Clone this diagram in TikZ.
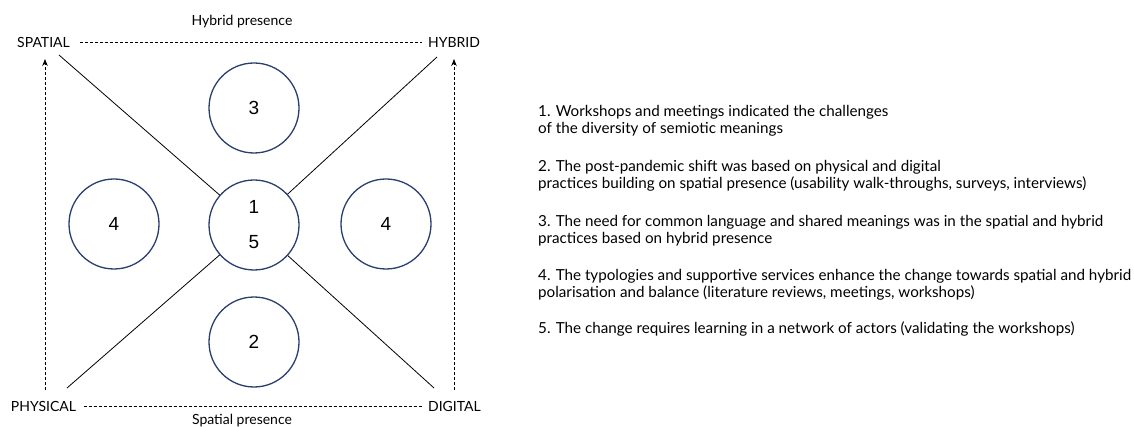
\documentclass[tikz,border=0pt]{standalone}
\usepackage{fontspec}
\setmainfont{Lato}
\newfontfamily\digitfont{Liberation Sans}
\usetikzlibrary{arrows.meta}
\definecolor{circnavy}{HTML}{2A3F6E}
\tikzset{
  circ/.style={circle, draw=circnavy, line width=1.3pt, fill=white, minimum size=90pt, inner sep=0pt, font=\digitfont\fontsize{19}{35}\selectfont, align=center},
  corner/.style={font=\fontsize{14}{16}\selectfont, inner sep=0pt},
  axislabel/.style={font=\fontsize{14}{16}\selectfont, inner sep=0pt, anchor=base},
  diag/.style={line width=0.8pt, black},
  dashline/.style={line width=0.8pt, dash pattern=on 3pt off 2pt},
  uparrow/.style={line width=0.8pt, dash pattern=on 3pt off 2pt, -{Stealth[length=7pt,width=5.5pt]}},
  item/.style={font=\fontsize{15.2}{17}\selectfont, inner sep=0pt, anchor=base west, align=left}
}
\begin{document}
\begin{tikzpicture}[x=1pt,y=-1pt]
\useasboundingbox (0,0) rectangle (1134,427);
% corner labels
\node[corner] (spatial) at (43.5,42) {SPATIAL};
\node[corner] (hybrid) at (454,42) {HYBRID};
\node[corner] (physical) at (43.5,406) {PHYSICAL};
\node[corner] (digital) at (454.5,406) {DIGITAL};
\node[axislabel] (hp) at (242,26) {Hybrid presence};
\node[axislabel] (sp) at (242,424) {Spatial presence};
% dashed horizontals
\draw[dashline] ([xshift=10pt]spatial.east) -- ([xshift=-6pt]hybrid.west);
\draw[dashline] ([xshift=8pt]physical.east) -- ([xshift=-5pt]digital.west);
% arrows
\coordinate (la) at (45,390);
\coordinate (lt) at (45,59);
\coordinate (ra) at (454,390);
\coordinate (rt) at (454,59);
\draw[uparrow] (la) -- (lt);
\draw[uparrow] (ra) -- (rt);
% diagonal end points
\coordinate (tl) at (59,55);
\coordinate (tr) at (437,57);
\coordinate (bl) at (67,388);
\coordinate (br) at (434,388);
% circles
\node[circ] (c) at (254,225) {1\\5};
\node[circ] (c3) at (254,108) {3};
\node[circ] (c2) at (254,342) {2};
\node[circ] (c4l) at (114,224) {4};
\node[circ] (c4r) at (386,224) {4};
\draw[diag] (tl) -- (c);
\draw[diag] (tr) -- (c);
\draw[diag] (bl) -- (c);
\draw[diag] (br) -- (c);
% legend text
\node[item] (t1) at (538,134) {1. Workshops and meetings indicated the challenges\\of the diversity of semiotic meanings};
\node[item] (t2) at (538,189) {2. The post-pandemic shift was based on physical and digital\\practices building on spatial presence (usability walk-throughs, surveys, interviews)};
\node[item] (t3) at (538,244) {3. The need for common language and shared meanings was in the spatial and hybrid\\practices based on hybrid presence};
\node[item] (t4) at (538,298) {4. The typologies and supportive services enhance the change towards spatial and hybrid\\polarisation and balance (literature reviews, meetings, workshops)};
\node[item] (t5) at (538,334) {5. The change requires learning in a network of actors (validating the workshops)};
\end{tikzpicture}
\end{document}
